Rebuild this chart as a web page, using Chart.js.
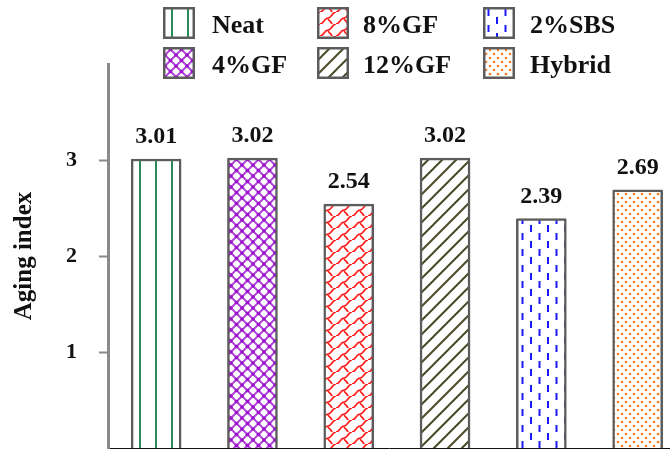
<!DOCTYPE html>
<html>
<head>
<meta charset="utf-8">
<script src="https://cdn.jsdelivr.net/npm/chart.js@4"></script>
<style>
  html, body { margin: 0; padding: 0; background: #fff; overflow: hidden; }
  canvas { display: block; }
</style>
</head>
<body>
<canvas id="chart" width="670" height="449"></canvas>
<script>
// Aging index of each binder
const categories = ['Neat', '4%GF', '8%GF', '12%GF', '2%SBS', 'Hybrid'];
const agingIndex = [3.01, 3.02, 2.54, 3.02, 2.39, 2.69];
const yTicks = [1, 2, 3];
const yTitle = 'Aging index';

const SERIF = '"Liberation Serif", "Times New Roman", serif';
const BORDER = '#5c5c5c';
const AXIS = '#8a8a8a';

// ---- hatch fills -------------------------------------------------------
function tile(w, h, draw) {
  const c = document.createElement('canvas');
  c.width = w; c.height = h;
  const g = c.getContext('2d');
  g.fillStyle = '#fff';
  g.fillRect(0, 0, w, h);
  draw(g, w, h);
  return c;
}
const tiles = {
  vlines: tile(16, 16, g => {
    g.fillStyle = '#2a8a5a';
    g.fillRect(11, 0, 2, 16);
  }),
  lattice: tile(11, 11, g => {
    g.strokeStyle = '#b045d8';
    g.lineWidth = 2;
    g.beginPath();
    g.moveTo(-1, -1); g.lineTo(12, 12);
    g.moveTo(12, -1); g.lineTo(-1, 12);
    g.stroke();
    g.fillStyle = '#9a10cc';
    [[0, 0], [11, 0], [0, 11], [11, 11], [5.5, 5.5]].forEach(([x, y]) => {
      g.beginPath(); g.arc(x, y, 1.8, 0, Math.PI * 2); g.fill();
    });
  }),
  waves: tile(16, 12, g => {
    g.strokeStyle = '#ff1a1a';
    g.lineWidth = 1.6;
    g.beginPath();
    g.moveTo(0, 12);
    g.bezierCurveTo(4, 12, 4, 6, 8, 6);
    g.bezierCurveTo(12, 6, 12, 0, 16, 0);
    g.moveTo(8, 6);
    g.bezierCurveTo(8, 9, 11, 9, 12, 12);
    g.stroke();
  }),
  diagonal: tile(14, 14, g => {
    g.strokeStyle = '#4a4a28';
    g.lineWidth = 2;
    g.beginPath();
    g.moveTo(0, 14); g.lineTo(14, 0);
    g.moveTo(-1, 1); g.lineTo(1, -1);
    g.moveTo(13, 15); g.lineTo(15, 13);
    g.stroke();
  }),
  dashes: tile(17, 16, g => {
    g.fillStyle = '#1a1aff';
    g.fillRect(3, 1, 2, 7);
    g.fillRect(11.5, 9, 2, 7);
  }),
  dots: tile(8, 8, g => {
    g.fillStyle = '#ff7a1a';
    [[2, 2], [6, 6]].forEach(([x, y]) => {
      g.beginPath(); g.arc(x, y, 1.3, 0, Math.PI * 2); g.fill();
    });
  })
};
const fillOrder = ['vlines', 'lattice', 'waves', 'diagonal', 'dashes', 'dots'];

const canvas = document.getElementById('chart');
const ctx = canvas.getContext('2d');
const fills = fillOrder.map(k => ctx.createPattern(tiles[k], 'repeat'));

// one dataset per binder so each gets its own legend entry
const datasets = categories.map((name, i) => ({
  label: name,
  data: [{ x: i, y: agingIndex[i] }],
  backgroundColor: fills[i],
  borderColor: BORDER,
  borderWidth: 2.5,
  borderRadius: 1,
  barThickness: 50,
  grouped: false
}));

// value printed above each bar
const valueLabels = {
  id: 'valueLabels',
  afterDatasetsDraw(chart) {
    const c = chart.ctx;
    c.save();
    c.font = 'bold 24px ' + SERIF;
    c.fillStyle = '#111';
    c.textAlign = 'center';
    c.textBaseline = 'alphabetic';
    chart.data.datasets.forEach((ds, i) => {
      const el = chart.getDatasetMeta(i).data[0];
      c.fillText(agingIndex[i].toFixed(2), el.x, el.y - 16);
    });
    c.restore();
  }
};

// two-row legend laid out in columns
const gridLegend = {
  id: 'gridLegend',
  afterDraw(chart) {
    const c = chart.ctx;
    const boxX = [163, 317, 483];
    const textX = [212, 363, 530];
    const rowY = [7, 47];
    const size = 32;
    c.save();
    c.font = 'bold 26px ' + SERIF;
    c.textBaseline = 'alphabetic';
    chart.data.datasets.forEach((ds, i) => {
      const col = Math.floor(i / 2), row = i % 2;
      const x = boxX[col], y = rowY[row];
      c.fillStyle = ds.backgroundColor;
      c.fillRect(x, y, size, size);
      c.strokeStyle = BORDER;
      c.lineWidth = 2.5;
      c.strokeRect(x + 1.25, y + 1.25, size - 2.5, size - 2.5);
      c.fillStyle = '#111';
      c.fillText(ds.label, textX[col], y + 25.5);
    });
    c.restore();
  }
};

new Chart(ctx, {
  type: 'bar',
  data: { datasets },
  plugins: [valueLabels, gridLegend],
  options: {
    responsive: false,
    animation: false,
    layout: { padding: { top: 64, right: 0, bottom: 0, left: 0 } },
    plugins: { legend: { display: false }, tooltip: { enabled: false } },
    scales: {
      x: {
        type: 'linear',
        offset: false,
        min: -0.5,
        max: 5.336,
        afterFit: s => { s.height = 1; },
        ticks: { display: false },
        grid: { display: true, offset: false, drawOnChartArea: false, drawTicks: false },
        border: { display: true, color: '#111', width: 1 }
      },
      y: {
        min: 0,
        max: 4,
        afterFit: s => { s.width = 108; s.paddingTop = 0; s.paddingBottom = 0; },
        afterBuildTicks: s => { s.ticks = s.ticks.filter(t => yTicks.includes(t.value)); },
        border: { display: true, color: AXIS, width: 3 },
        grid: {
          drawOnChartArea: false,
          drawTicks: true,
          tickLength: 9,
          tickWidth: 2,
          tickColor: AXIS
        },
        ticks: {
          stepSize: 1,
          padding: 22,
          color: '#111',
          font: { family: SERIF, size: 22, weight: 'bold' }
        },
        title: {
          display: true,
          text: yTitle,
          color: '#111',
          font: { family: SERIF, size: 25, weight: 'bold' },
          padding: { top: 10, bottom: 0 }
        }
      }
    }
  }
});
</script>
</body>
</html>
